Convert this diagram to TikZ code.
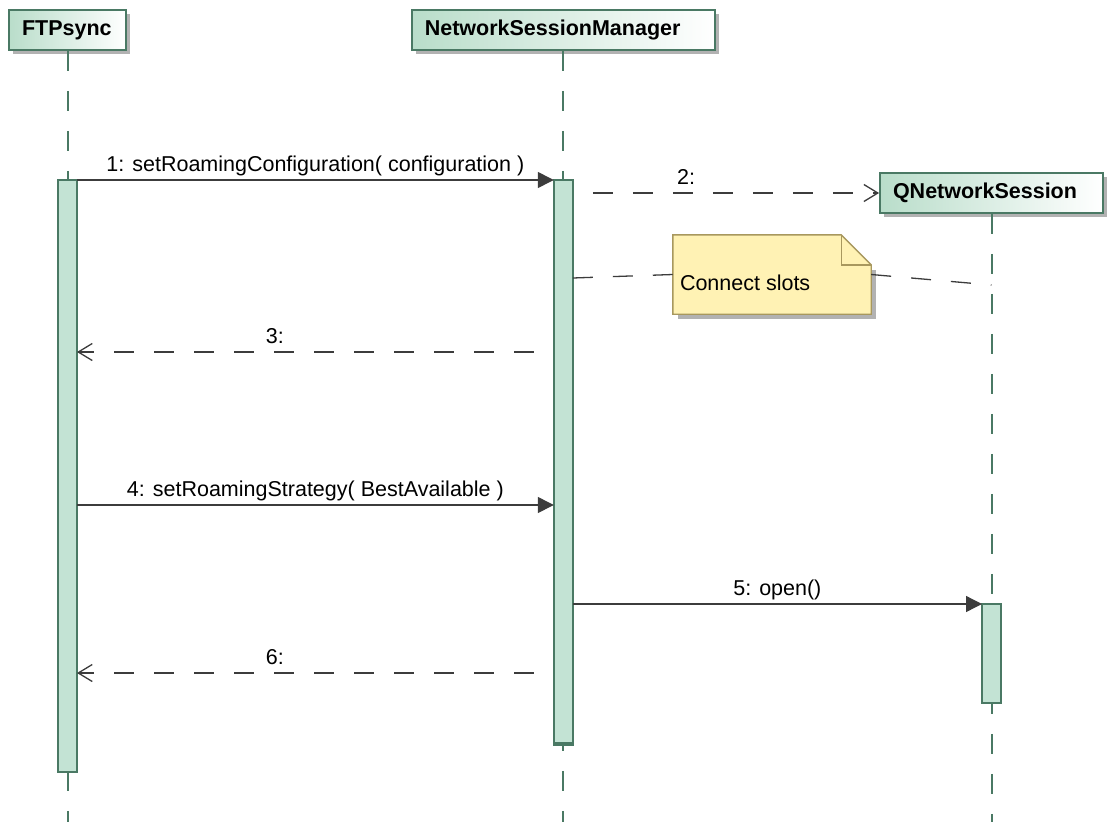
\documentclass[tikz,border=0pt]{standalone}
\usepackage{fontspec}
\setmainfont{Liberation Sans}
\usetikzlibrary{positioning,shadows,arrows.meta}
\definecolor{umlgreen}{HTML}{4A7964}
\definecolor{hdrgreen}{HTML}{B9DDCA}
\definecolor{barfill}{HTML}{C3E3D4}
\definecolor{msggray}{HTML}{3C3C3C}
\definecolor{shadowgray}{HTML}{B2B2B2}
\definecolor{notefill}{HTML}{FFF2B4}
\definecolor{notedraw}{HTML}{A8985E}

\begin{document}
\begin{tikzpicture}[x=1pt,y=-1pt,font=\fontsize{21.5}{26}\selectfont]
	\tikzset{Header/.style = {rectangle, draw=umlgreen, line width=1.8pt, left color=hdrgreen, right color=white,
			minimum height=40pt, inner xsep=13pt, inner ysep=0pt, align=left, font=\fontsize{21.5}{26}\selectfont\bfseries,
			drop shadow={shadow xshift=4pt, shadow yshift=-4pt, fill=shadowgray, opacity=1}},
		Lifeline/.style = {draw=umlgreen, line width=2pt, dash pattern=on 20pt off 20pt},
		ActBar/.style = {rectangle, draw=umlgreen, line width=1.8pt, fill=barfill, minimum width=19pt, inner sep=0pt, outer sep=0pt, anchor=north},
		SyncMsg/.style = {draw=msggray, line width=1.3pt, -{Triangle[length=16pt,width=16pt,fill=msggray]}},
		DashMsg/.style = {draw=msggray, line width=1.3pt, dash pattern=on 20pt off 20pt, dash phase=20pt, -{Straight Barb[length=14pt,width=17pt]}},
		NoteLink/.style = {draw=msggray, line width=1.3pt, dash pattern=on 20pt off 20pt},
		MsgLabel/.style = {above, inner sep=3pt, text depth=5pt}}
	\useasboundingbox (0,0) rectangle (1108,822);
	% lifeline heads
	\node[Header, text width=91pt] (ftp) at (67.5,30) {FTPsync};
	\node[Header, text width=277pt, right=284pt of ftp] (nsm) {NetworkSessionManager};
	\node[Header, text width=197pt] (qns) at (991.5,193) {QNetworkSession};
	% message levels
	\coordinate (m1) at (0,180);
	\coordinate (m3) at (0,352);
	\coordinate (m4) at (0,505);
	\coordinate (m5) at (0,604);
	\coordinate (m6) at (0,673);
	\coordinate (bottom) at (0,822);
	\foreach \p in {ftp,nsm,qns}
		\draw[Lifeline] (\p.south) -- (\p.south |- bottom);
	% activations
	\node[ActBar, minimum height=592pt] (ftpbar) at (ftp.south |- m1) {};
	\node[ActBar, minimum height=565pt] (nsmbar) at (nsm.south |- m1) {};
	\draw[umlgreen, line width=3.5pt] ([yshift=1pt]nsmbar.south west) -- ([yshift=1pt]nsmbar.south east);
	\node[ActBar, minimum height=99pt] (qnsbar) at (qns.south |- m5) {};
	% note
	\node[minimum width=198pt, minimum height=79pt, inner sep=0pt] (note) at (772,274.5) {};
	\fill[shadowgray] ([shift={(5pt,-5pt)}]note.south west) rectangle ([shift={(5pt,-35pt)}]note.north east);
	\filldraw[fill=notefill, draw=notedraw, line width=1.4pt] (note.north west) -- ([xshift=-30pt]note.north east)
		-- ([yshift=-30pt]note.north east) -- (note.south east) -- (note.south west) -- cycle;
	\draw[notedraw, line width=1.4pt] ([xshift=-30pt]note.north east) |- ([yshift=-30pt]note.north east);
	\node[anchor=west, inner sep=0pt] (notetext) at ([xshift=7pt,yshift=-8.5pt]note.west) {Connect slots};
	\coordinate (n1) at (0,278);
	\coordinate (n2) at (0,285);
	\draw[NoteLink] (nsmbar.east |- n1) -- (note.west);
	\draw[NoteLink] (note.east) -- (qns.south |- n2);
	% messages
	\draw[SyncMsg] (ftpbar.north east) -- (nsmbar.north west) node[MsgLabel, midway] {1: setRoamingConfiguration( configuration )};
	\draw[DashMsg] (nsmbar.east |- qns.west) -- (qns.west) node[MsgLabel, pos=0.37] {2:};
	\draw[DashMsg] (nsmbar.west |- m3) -- (ftpbar.east |- m3) node[MsgLabel, pos=0.585] {3:};
	\draw[SyncMsg] (ftpbar.east |- m4) -- (nsmbar.west |- m4) node[MsgLabel, midway] {4: setRoamingStrategy( BestAvailable )};
	\draw[SyncMsg] (nsmbar.east |- qnsbar.north) -- (qnsbar.north west) node[MsgLabel, midway] {5: open()};
	\draw[DashMsg] (nsmbar.west |- m6) -- (ftpbar.east |- m6) node[MsgLabel, pos=0.585] {6:};
	%\draw[DashMsg] (qnsbar.south west) -- (nsmbar.east |- qnsbar.south);
\end{tikzpicture}
\end{document}
